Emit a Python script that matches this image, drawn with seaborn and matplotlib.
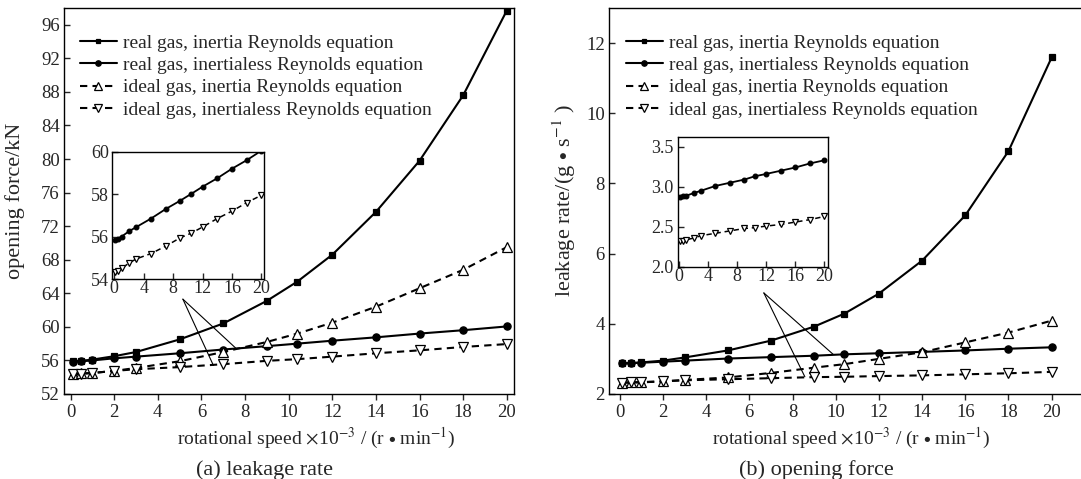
import matplotlib
matplotlib.use("Agg")
import matplotlib.pyplot as plt
import seaborn as sns
import pandas as pd
import numpy as np

# rotational speed x 10^-3 (r/min)
speed = [0.1, 0.5, 1, 2, 3, 5, 7, 9, 10.4, 12, 14, 16, 18, 20]

# (a) opening force / kN
force_real_inertia = [55.9, 55.95, 56.1, 56.5, 57.0, 58.5, 60.4, 63.1, 65.4, 68.6, 73.7, 79.8, 87.6, 97.7]
force_real_inertialess = [55.85, 55.9, 56.0, 56.25, 56.45, 56.85, 57.3, 57.7, 58.0, 58.35, 58.75, 59.2, 59.6, 60.05]
force_ideal_inertia = [54.4, 54.45, 54.5, 54.75, 55.1, 55.9, 57.0, 58.2, 59.2, 60.5, 62.4, 64.6, 66.8, 69.5]
force_ideal_inertialess = [54.35, 54.4, 54.5, 54.75, 54.95, 55.2, 55.55, 55.95, 56.15, 56.45, 56.85, 57.2, 57.6, 57.95]

# (b) leakage rate / (g/s)
leak_real_inertia = [2.87, 2.88, 2.9, 2.95, 3.04, 3.24, 3.52, 3.92, 4.29, 4.86, 5.8, 7.09, 8.92, 11.59]
leak_real_inertialess = [2.87, 2.88, 2.89, 2.92, 2.95, 3.01, 3.05, 3.09, 3.13, 3.16, 3.2, 3.24, 3.29, 3.33]
leak_ideal_inertia = [2.32, 2.33, 2.33, 2.36, 2.4, 2.47, 2.6, 2.75, 2.85, 3.0, 3.19, 3.47, 3.75, 4.09]
leak_ideal_inertialess = [2.32, 2.33, 2.34, 2.36, 2.39, 2.42, 2.45, 2.48, 2.49, 2.51, 2.53, 2.56, 2.59, 2.63]

labels = ["real gas, inertia Reynolds equation",
          "real gas, inertialess Reynolds equation",
          "ideal gas, inertia Reynolds equation",
          "ideal gas, inertialess Reynolds equation"]

# callout lines: (start point, [end points]) in data coords
force_callout = ((5.15, 63.3), [(7.6, 57.4), (6.55, 55.4)])
leak_callout = ((6.67, 4.88), [(9.88, 3.13), (8.57, 2.49)])

sns.set_theme(style="ticks")
plt.rcParams['font.family'] = ['Liberation Serif', 'DejaVu Serif']
plt.rcParams['mathtext.fontset'] = 'stix'
plt.rcParams['font.size'] = 14
plt.rcParams['axes.linewidth'] = 1.0
plt.rcParams['axes.edgecolor'] = 'black'

TICK_FS = 13.5
LABEL_FS = 14
YLABEL_FS = 16

dash = (3.5, 2.5)
styles = [
    dict(marker='s', markersize=4.5, markerfacecolor='black', linestyle='-'),
    dict(marker='o', markersize=5.2, markerfacecolor='black', linestyle='-'),
    dict(marker='^', markersize=7, markerfacecolor='white', linestyle=(0, dash)),
    dict(marker='v', markersize=7, markerfacecolor='white', linestyle=(0, dash)),
]


def draw_series(ax, values, style, label=None, lw=1.5, ms_scale=1.0):
    st = dict(style)
    st['markersize'] = st['markersize'] * ms_scale
    sns.lineplot(x=speed, y=values, ax=ax, color='black', linewidth=lw,
                 markeredgecolor='black', markeredgewidth=0.9,
                 errorbar=None, legend=False, label=label, **st)


def style_axes(ax, xin=False, fs=TICK_FS):
    ax.tick_params(axis='y', direction='in', length=4.5, width=1, labelsize=fs, pad=3)
    ax.tick_params(axis='x', direction='in' if xin else 'out', length=4.5, width=1,
                   labelsize=fs, pad=3)
    for sp in ax.spines.values():
        sp.set_color('black')
        sp.set_linewidth(1.0)


def add_legend(ax, x0):
    leg = ax.legend(loc='upper left', bbox_to_anchor=(x0, 0.932), frameon=False,
                    borderaxespad=0, borderpad=0, handlelength=1.9, handletextpad=0.3,
                    labelspacing=0.24, fontsize=LABEL_FS)
    for line in leg.get_lines():
        line.set_markersize(line.get_markersize() * 0.75)
    return leg


xlabel = r"rotational speed $\times$10$^{-3}$ / (r $\bullet$ min$^{-1}$)"

fig = plt.figure(figsize=(10.81, 4.79), dpi=100)

# ---------------- (a) opening force ----------------
ax1 = fig.add_axes([0.0592, 0.1775, 0.4163, 0.8058])
series1 = [force_real_inertia, force_real_inertialess, force_ideal_inertia, force_ideal_inertialess]
for vals, st, lab in zip(series1, styles, labels):
    draw_series(ax1, vals, st, label=lab)
ax1.set_xlim(-0.3, 20.33)
ax1.set_ylim(52, 98)
ax1.set_xticks(np.arange(0, 21, 2))
ax1.set_yticks(np.arange(52, 97, 4))
style_axes(ax1)
ax1.set_xlabel(xlabel, fontsize=LABEL_FS)
ax1.xaxis.set_label_coords(0.56, -0.082)
ax1.set_ylabel("opening force/kN", fontsize=YLABEL_FS)
ax1.yaxis.set_label_coords(-0.087, 0.5)
add_legend(ax1, 0.035)

start, ends = force_callout
for end in ends:
    ax1.annotate('', xy=end, xytext=start,
                 arrowprops=dict(arrowstyle='-', color='black', lw=0.8, shrinkA=0, shrinkB=0))

# inset (a)
ins1 = fig.add_axes([0.1033, 0.4175, 0.1406, 0.2658])
draw_series(ins1, force_real_inertialess, styles[1], lw=1.3, ms_scale=0.65)
draw_series(ins1, force_ideal_inertialess, styles[3], lw=1.1, ms_scale=0.55)
ins1.set_xlim(-0.35, 20.3)
ins1.set_ylim(54, 60)
ins1.set_xticks(np.arange(0, 21, 4))
ins1.set_yticks([54, 56, 58, 60])
style_axes(ins1, xin=True, fs=13)
ins1.tick_params(axis='x', pad=1)
ins1.tick_params(axis='y', pad=2)

fig.text(265 / 1081, 1 - 470 / 479, "(a) leakage rate", ha='center', va='center', fontsize=16)

# ---------------- (b) leakage rate ----------------
ax2 = fig.add_axes([0.5634, 0.1775, 0.4366, 0.8058])
series2 = [leak_real_inertia, leak_real_inertialess, leak_ideal_inertia, leak_ideal_inertialess]
for vals, st, lab in zip(series2, styles, labels):
    draw_series(ax2, vals, st, label=lab)
ax2.set_xlim(-0.5, 21.36)
ax2.set_ylim(2, 13)
ax2.set_xticks(np.arange(0, 21, 2))
ax2.set_yticks(np.arange(2, 13, 2))
style_axes(ax2)
ax2.spines['right'].set_visible(False)
ax2.set_xlabel(xlabel, fontsize=LABEL_FS)
ax2.xaxis.set_label_coords(0.514, -0.082)
ax2.set_ylabel(r"leakage rate/(g $\bullet$ s$^{-1}$ )", fontsize=YLABEL_FS)
ax2.yaxis.set_label_coords(-0.066, 0.5)
add_legend(ax2, 0.036)

start, ends = leak_callout
for end in ends:
    ax2.annotate('', xy=end, xytext=start,
                 arrowprops=dict(arrowstyle='-', color='black', lw=0.8, shrinkA=0, shrinkB=0))

# inset (b)
ins2 = fig.add_axes([0.6272, 0.4426, 0.1388, 0.2714])
draw_series(ins2, leak_real_inertialess, styles[1], lw=1.3, ms_scale=0.65)
draw_series(ins2, leak_ideal_inertialess, styles[3], lw=1.1, ms_scale=0.55)
ins2.set_xlim(-0.15, 20.5)
ins2.set_ylim(2.0, 3.62)
ins2.set_xticks(np.arange(0, 21, 4))
ins2.set_yticks([2.0, 2.5, 3.0, 3.5])
ins2.set_yticklabels(["2.0", "2.5", "3.0", "3.5"])
style_axes(ins2, xin=True, fs=13)
ins2.tick_params(axis='x', pad=1)
ins2.tick_params(axis='y', pad=3)

fig.text(816 / 1081, 1 - 470 / 479, "(b) opening force", ha='center', va='center', fontsize=16)

fig.savefig("out.png", dpi=100)
